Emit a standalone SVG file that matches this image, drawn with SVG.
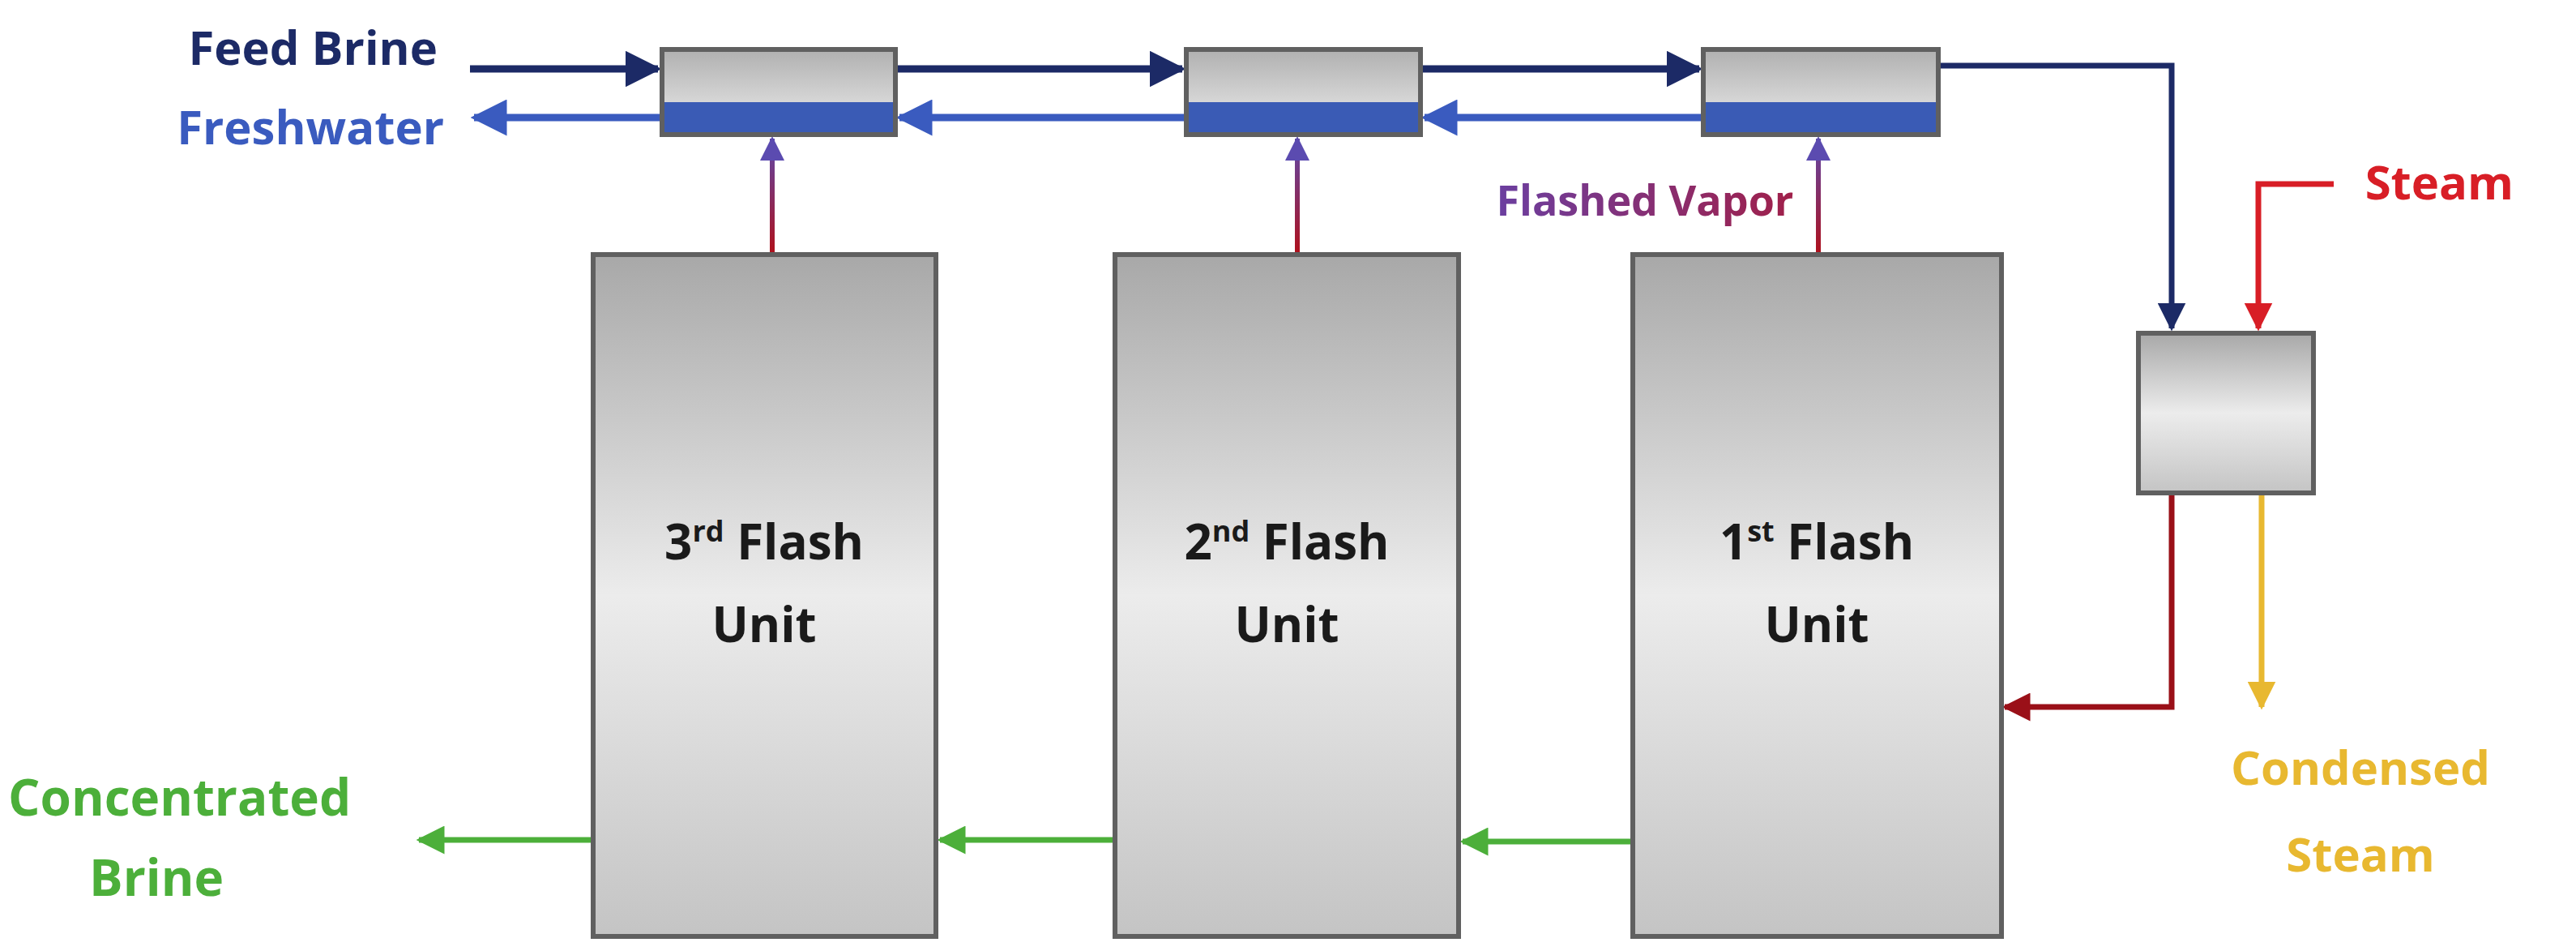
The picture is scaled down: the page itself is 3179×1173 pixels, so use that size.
<svg xmlns="http://www.w3.org/2000/svg" width="3179" height="1173" viewBox="0 0 3179 1173">
<defs>
<linearGradient id="gv" x1="0" y1="0" x2="0" y2="1"><stop offset="0" stop-color="#a8a8a8"/><stop offset="0.5" stop-color="#ececec"/><stop offset="1" stop-color="#c4c4c4"/></linearGradient>
<linearGradient id="gc" x1="0" y1="0" x2="0" y2="1"><stop offset="0" stop-color="#b0b0b0"/><stop offset="1" stop-color="#eeeeee"/></linearGradient>
<linearGradient id="gvap" x1="0" y1="314" x2="0" y2="166" gradientUnits="userSpaceOnUse"><stop offset="0" stop-color="#b0101a"/><stop offset="1" stop-color="#5b4bb0"/></linearGradient>
<linearGradient id="gtxt" x1="0" y1="0" x2="1" y2="0"><stop offset="0" stop-color="#6b3fa0"/><stop offset="1" stop-color="#a0204a"/></linearGradient>
<marker id="an" viewBox="0 0 10 10" refX="9" refY="5" markerWidth="5" markerHeight="5" orient="auto"><path d="M0,0L10,5L0,10z" fill="#1c2a66"/></marker>
<marker id="ab" viewBox="0 0 10 10" refX="9" refY="5" markerWidth="5" markerHeight="5" orient="auto"><path d="M0,0L10,5L0,10z" fill="#3a5bbf"/></marker>
<marker id="ap" viewBox="0 0 10 10" refX="9" refY="5" markerWidth="5" markerHeight="5" orient="auto"><path d="M0,0L10,5L0,10z" fill="#5b4bb0"/></marker>
<marker id="ar" viewBox="0 0 10 10" refX="9" refY="5" markerWidth="5" markerHeight="5" orient="auto"><path d="M0,0L10,5L0,10z" fill="#d81e26"/></marker>
<marker id="ad" viewBox="0 0 10 10" refX="9" refY="5" markerWidth="5" markerHeight="5" orient="auto"><path d="M0,0L10,5L0,10z" fill="#9a1018"/></marker>
<marker id="ay" viewBox="0 0 10 10" refX="9" refY="5" markerWidth="5" markerHeight="5" orient="auto"><path d="M0,0L10,5L0,10z" fill="#e8b830"/></marker>
<marker id="ag" viewBox="0 0 10 10" refX="9" refY="5" markerWidth="5" markerHeight="5" orient="auto"><path d="M0,0L10,5L0,10z" fill="#4caf3a"/></marker>
</defs>
<style>
.box{stroke:#606060;stroke-width:6}
.t{font-family:"Open Sans","Liberation Sans",sans-serif;font-weight:bold}
.u{font-size:60px;fill:#1a1a1a;text-anchor:middle}
.l{font-size:58px}
</style>
<g id="connectors" fill="none">
<path d="M580,85H812" stroke="#1c2a66" stroke-width="9" marker-end="url(#an)"/>
<path d="M1105,85H1459" stroke="#1c2a66" stroke-width="9" marker-end="url(#an)"/>
<path d="M1753,85H2097" stroke="#1c2a66" stroke-width="9" marker-end="url(#an)"/>
<path d="M2392,81H2680V405" stroke="#1c2a66" stroke-width="7" marker-end="url(#an)"/>
<path d="M817,145H585" stroke="#3a5bbf" stroke-width="9" marker-end="url(#ab)"/>
<path d="M1464,145H1110" stroke="#3a5bbf" stroke-width="9" marker-end="url(#ab)"/>
<path d="M2102,145H1758" stroke="#3a5bbf" stroke-width="9" marker-end="url(#ab)"/>
<path d="M953,314V171" stroke="url(#gvap)" stroke-width="6" marker-end="url(#ap)"/>
<path d="M1601,314V171" stroke="url(#gvap)" stroke-width="6" marker-end="url(#ap)"/>
<path d="M2244,314V171" stroke="url(#gvap)" stroke-width="6" marker-end="url(#ap)"/>
<path d="M2880,227H2787V405" stroke="#d81e26" stroke-width="7" marker-end="url(#ar)"/>
<path d="M2680,608V872H2474" stroke="#9a1018" stroke-width="7" marker-end="url(#ad)"/>
<path d="M2791,608V872" stroke="#e8b830" stroke-width="7" marker-end="url(#ay)"/>
<path d="M732,1036H517" stroke="#4caf3a" stroke-width="7" marker-end="url(#ag)"/>
<path d="M1376,1036H1160" stroke="#4caf3a" stroke-width="7" marker-end="url(#ag)"/>
<path d="M2015,1038H1805" stroke="#4caf3a" stroke-width="7" marker-end="url(#ag)"/>
</g>
<g id="cond1"><rect x="817" y="61" width="288" height="105" fill="url(#gc)" class="box"/><rect x="820" y="126" width="282" height="37" fill="#3a5bb5"/></g>
<g id="cond2"><rect x="1464" y="61" width="289" height="105" fill="url(#gc)" class="box"/><rect x="1467" y="126" width="283" height="37" fill="#3a5bb5"/></g>
<g id="cond3"><rect x="2102" y="61" width="290" height="105" fill="url(#gc)" class="box"/><rect x="2105" y="126" width="284" height="37" fill="#3a5bb5"/></g>
<g id="heater"><rect x="2639" y="411" width="216" height="197" fill="url(#gv)" class="box"/></g>
<g id="unit3"><rect x="732" y="314" width="423" height="841" fill="url(#gv)" class="box"/><text class="t u" x="943" y="690">3<tspan font-size="36" dy="-22">rd</tspan><tspan dy="22"> Flash</tspan></text><text class="t u" x="943" y="792">Unit</text></g>
<g id="unit2"><rect x="1376" y="314" width="424" height="841" fill="url(#gv)" class="box"/><text class="t u" x="1588" y="690">2<tspan font-size="36" dy="-22">nd</tspan><tspan dy="22"> Flash</tspan></text><text class="t u" x="1588" y="792">Unit</text></g>
<g id="unit1"><rect x="2015" y="314" width="455" height="841" fill="url(#gv)" class="box"/><text class="t u" x="2242" y="690">1<tspan font-size="36" dy="-22">st</tspan><tspan dy="22"> Flash</tspan></text><text class="t u" x="2242" y="792">Unit</text></g>
<g id="labels" class="t">
<text class="l" x="540" y="80" text-anchor="end" fill="#1c2a66">Feed Brine</text>
<text class="l" x="548" y="178" text-anchor="end" fill="#3a5bbf">Freshwater</text>
<text x="2030" y="266" font-size="52" text-anchor="middle" fill="url(#gtxt)">Flashed Vapor</text>
<text class="l" x="3102" y="246" text-anchor="end" fill="#d81e26">Steam</text>
<text class="l" x="2913" y="968" text-anchor="middle" fill="#e8b830">Condensed</text>
<text class="l" x="2913" y="1075" text-anchor="middle" fill="#e8b830">Steam</text>
<text x="10" y="1006" font-size="62" fill="#4caf3a">Concentrated</text>
<text x="110" y="1105" font-size="62" fill="#4caf3a">Brine</text>
</g>
</svg>
